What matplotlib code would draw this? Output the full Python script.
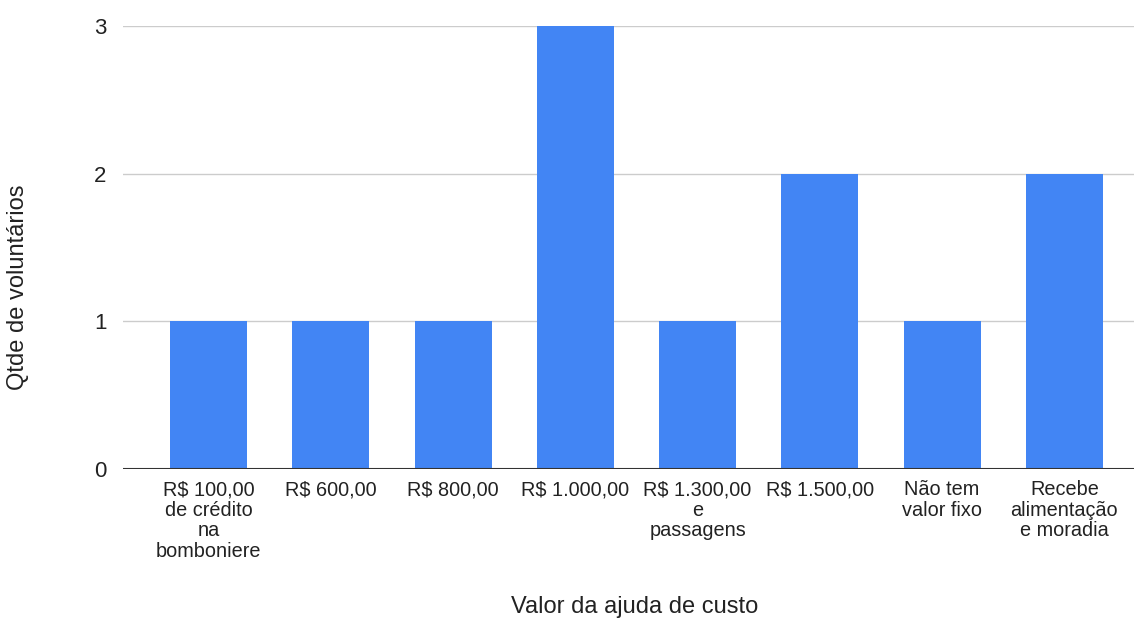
import matplotlib.pyplot as plt

categorias = [
    "R$ 100,00\nde crédito\nna\nbomboniere",
    "R$ 600,00",
    "R$ 800,00",
    "R$ 1.000,00",
    "R$ 1.300,00\ne\npassagens",
    "R$ 1.500,00",
    "Não tem\nvalor fixo",
    "Recebe\nalimentação\ne moradia",
]
qtde = [1, 1, 1, 3, 1, 2, 1, 2]

plt.rcParams['font.family'] = ['Liberation Sans', 'DejaVu Sans']

fig = plt.figure(figsize=(11.34, 6.18), dpi=100)
ax = fig.add_axes([0.1085, 0.241, 0.8915, 0.717])

x = range(len(categorias))
ax.bar(x, qtde, width=0.63, color="#4285F4", zorder=3)

ax.set_xlim(-0.7, 7.57)
ax.set_ylim(0, 3)
ax.set_yticks([0, 1, 2, 3])
ax.grid(axis="y", color="#cccccc", linewidth=1, zorder=0)
ax.axhline(0, color="#333333", linewidth=1.5, zorder=4)

for s in ax.spines.values():
    s.set_visible(False)

ax.set_xticks(list(x))
ax.set_xticklabels(categorias, fontsize=14.3, linespacing=1.1, color="#222222")
ax.tick_params(axis="x", length=0, pad=8)
ax.tick_params(axis="y", length=0, pad=12, labelsize=16, labelcolor="#222222")

# axis titles placed in figure coordinates
fig.text(0.56, 0.018, "Valor da ajuda de custo", fontsize=17, color="#222222",
         ha="center", va="center")
fig.text(0.016, 0.536, "Qtde de voluntários", fontsize=17, color="#222222",
         ha="center", va="center", rotation=90)

fig.savefig("out.png", dpi=100)
